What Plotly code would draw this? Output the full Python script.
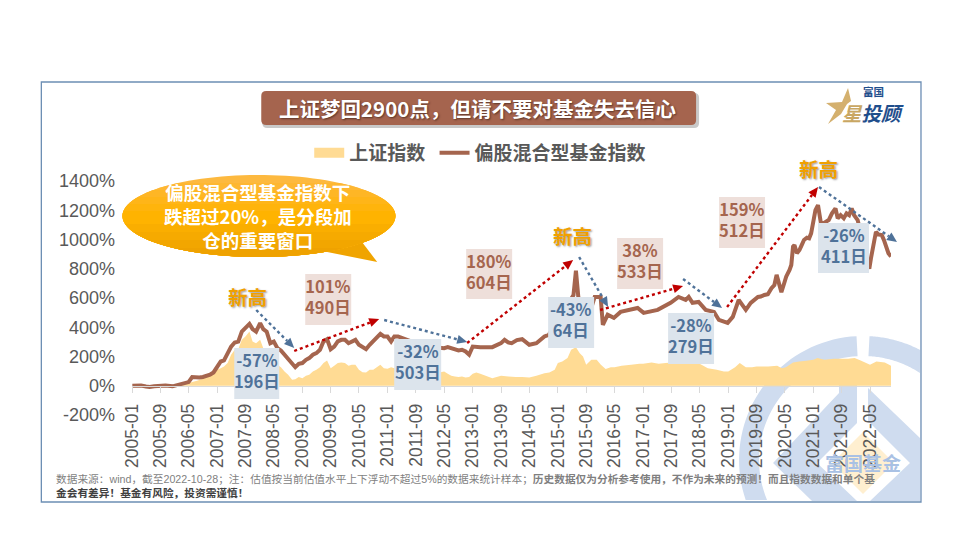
import numpy as np
import plotly.graph_objects as go

# 偏股混合型基金指数 (values in %)
fund_dates = [
    "2005-01-04", "2005-02-15", "2005-03-20", "2005-05-01", "2005-06-01", "2005-07-10", "2005-09-01", "2005-10-15",
    "2005-12-15", "2006-01-10", "2006-03-01", "2006-05-01", "2006-06-01", "2006-07-01", "2006-08-01", "2006-09-01",
    "2006-10-01", "2006-11-01", "2006-12-01", "2007-01-01", "2007-02-01", "2007-03-01", "2007-04-01", "2007-05-01",
    "2007-06-01", "2007-07-01", "2007-08-01", "2007-09-01", "2007-10-05", "2007-11-01", "2007-12-01", "2008-01-05",
    "2008-02-01", "2008-03-01", "2008-04-01", "2008-05-01", "2008-06-01", "2008-07-01", "2008-08-01", "2008-09-01",
    "2008-10-01", "2008-11-01", "2008-12-01", "2009-01-01", "2009-02-01", "2009-03-01", "2009-04-01", "2009-05-01",
    "2009-06-01", "2009-07-01", "2009-08-01", "2009-09-01", "2009-10-01", "2009-11-01", "2009-12-01", "2010-01-01",
    "2010-02-01", "2010-03-01", "2010-04-01", "2010-05-01", "2010-06-01", "2010-07-01", "2010-08-01", "2010-09-01",
    "2010-10-01", "2010-11-01", "2010-12-01", "2011-01-01", "2011-02-01", "2011-03-01", "2011-04-01", "2011-06-01",
    "2011-08-01", "2011-10-01", "2012-01-01", "2012-03-01", "2012-05-01", "2012-06-01", "2012-07-01", "2012-08-01",
    "2012-09-01", "2012-10-01", "2012-11-01", "2012-12-01", "2013-01-01", "2013-03-07", "2013-06-18", "2013-09-01",
    "2013-10-01", "2013-11-01", "2013-12-01", "2014-01-15", "2014-03-01", "2014-05-01", "2014-07-01", "2014-09-08",
    "2014-10-15", "2015-01-01", "2015-03-01", "2015-05-15", "2015-06-05", "2015-06-25", "2015-07-10", "2015-08-25",
    "2015-09-20", "2015-11-13", "2016-01-03", "2016-01-22", "2016-03-03", "2016-04-25", "2016-06-22", "2016-09-01",
    "2016-11-15", "2017-01-06", "2017-03-06", "2017-05-06", "2017-08-25", "2017-11-01", "2018-01-01", "2018-01-27",
    "2018-03-01", "2018-04-22", "2018-06-22", "2018-09-01", "2018-10-13", "2018-12-27", "2019-02-09", "2019-04-01",
    "2019-06-01", "2019-07-13", "2019-09-13", "2019-10-07", "2019-11-07", "2019-12-07", "2020-01-07", "2020-02-01",
    "2020-02-20", "2020-03-10", "2020-04-01", "2020-04-25", "2020-05-12", "2020-06-10", "2020-06-25", "2020-07-10",
    "2020-07-22", "2020-08-12", "2020-09-03", "2020-09-22", "2020-10-12", "2020-11-06", "2020-11-25", "2020-12-12",
    "2021-01-01", "2021-01-18", "2021-02-09", "2021-02-25", "2021-03-06", "2021-04-05", "2021-05-12", "2021-06-09",
    "2021-07-09", "2021-07-28", "2021-08-22", "2021-09-18", "2021-10-12", "2021-11-03", "2021-11-25", "2021-12-15",
    "2022-01-15", "2022-03-09", "2022-04-25", "2022-05-09", "2022-05-25", "2022-06-21", "2022-07-10", "2022-08-10",
    "2022-08-28", "2022-09-15", "2022-10-06", "2022-10-28",
]
fund_values = [
    0, 3, 2, -5, -9, -4, 0, 2,
    -4, 2, 11, 25, 59, 55, 57, 60,
    68, 75, 91, 132, 166, 173, 215, 268,
    296, 302, 371, 400, 423, 387, 370, 428,
    387, 370, 291, 302, 257, 241, 212, 177,
    155, 127, 150, 155, 177, 189, 212, 223,
    246, 303, 318, 250, 268, 303, 314, 314,
    291, 303, 314, 280, 264, 250, 280, 303,
    325, 355, 337, 337, 303, 337, 337, 320,
    300, 265, 250, 262, 257, 264, 257, 250,
    241, 246, 234, 212, 268, 264, 264, 291,
    314, 296, 291, 312, 318, 280, 291, 337,
    348, 450, 520, 620, 787, 610, 560, 480,
    470, 607, 607, 416, 485, 464, 505, 519,
    532, 498, 510, 519, 567, 607, 587, 607,
    567, 573, 519, 505, 450, 430, 471, 587,
    519, 567, 607, 610, 621, 626, 667, 689,
    758, 701, 640, 701, 746, 792, 826, 951,
    962, 906, 928, 962, 997, 1012, 1008, 1042,
    1133, 1201, 1235, 1167, 1111, 1115, 1133, 1179,
    1213, 1145, 1167, 1145, 1179, 1167, 1213, 1167,
    1133, 960, 800, 871, 940, 1053, 1035, 1030,
    997, 951, 906, 883,
]

# 上证指数 (values in %)
index_dates = [
    "2005-01-04", "2005-06-01", "2005-12-01", "2006-03-01", "2006-05-01", "2006-07-20", "2006-10-01", "2006-12-01",
    "2007-01-01", "2007-02-01", "2007-03-01", "2007-04-01", "2007-05-01", "2007-06-01", "2007-07-01", "2007-08-01",
    "2007-09-01", "2007-10-05", "2007-11-01", "2007-12-01", "2008-01-05", "2008-02-01", "2008-03-01", "2008-04-01",
    "2008-05-01", "2008-06-01", "2008-07-01", "2008-08-01", "2008-09-01", "2008-10-05", "2008-11-01", "2008-12-01",
    "2009-01-01", "2009-02-01", "2009-03-01", "2009-04-01", "2009-05-01", "2009-06-01", "2009-07-01", "2009-08-01",
    "2009-09-01", "2009-10-01", "2009-11-01", "2009-12-01", "2010-01-01", "2010-02-01", "2010-03-01", "2010-04-01",
    "2010-05-01", "2010-06-01", "2010-07-01", "2010-08-01", "2010-09-01", "2010-10-01", "2010-11-01", "2010-12-01",
    "2011-01-01", "2011-02-01", "2011-03-01", "2011-04-01", "2011-06-01", "2011-08-01", "2011-10-01", "2012-01-01",
    "2012-03-01", "2012-05-01", "2012-06-01", "2012-07-01", "2012-08-01", "2012-09-01", "2012-10-01", "2012-11-01",
    "2012-12-01", "2013-01-01", "2013-02-01", "2013-03-07", "2013-06-18", "2013-09-01", "2013-11-03", "2014-01-05",
    "2014-03-01", "2014-05-01", "2014-07-01", "2014-09-08", "2014-10-20", "2014-12-05", "2015-01-01", "2015-02-08",
    "2015-03-25", "2015-04-25", "2015-06-05", "2015-07-08", "2015-08-05", "2015-09-01", "2015-10-15", "2015-11-30",
    "2016-01-05", "2016-02-15", "2016-03-30", "2016-05-01", "2016-07-01", "2016-09-20", "2016-12-01", "2017-01-01",
    "2017-03-15", "2017-05-15", "2017-07-15", "2017-09-01", "2017-12-01", "2018-03-01", "2018-05-01", "2018-07-10",
    "2018-09-25", "2018-11-25", "2019-01-01", "2019-03-01", "2019-04-10", "2019-06-01", "2019-07-25", "2019-09-01",
    "2019-12-10", "2020-02-25", "2020-04-05", "2020-05-10", "2020-07-10", "2020-09-01", "2020-11-01", "2021-01-01",
    "2021-02-05", "2021-04-05", "2021-06-25", "2021-09-01", "2021-10-25", "2021-12-20", "2022-02-10", "2022-05-01",
    "2022-06-25", "2022-09-05", "2022-10-28",
]
index_values = [
    0, -3, -5, 7, 18, 36, 59, 86,
    109, 120, 132, 155, 212, 246, 250, 314,
    337, 371, 303, 291, 314, 257, 200, 189,
    166, 143, 127, 98, 75, 41, 45, 59,
    52, 68, 75, 98, 109, 127, 155, 173,
    120, 137, 155, 159, 155, 137, 143, 143,
    109, 93, 91, 109, 109, 127, 143, 120,
    116, 127, 120, 127, 115, 95, 85, 80,
    88, 98, 82, 68, 64, 59, 64, 57,
    59, 82, 91, 82, 52, 68, 64, 59,
    59, 57, 68, 86, 91, 109, 155, 166,
    189, 246, 264, 223, 200, 143, 177, 177,
    143, 114, 127, 127, 137, 143, 150, 150,
    159, 150, 155, 159, 155, 150, 150, 120,
    109, 98, 98, 127, 155, 127, 127, 132,
    132, 137, 120, 127, 159, 166, 171, 177,
    189, 177, 184, 184, 184, 189, 173, 143,
    166, 159, 137,
]

y_ticks = [-200, 0, 200, 400, 600, 800, 1000, 1200, 1400]

up_boxes = [("101%", "490日", 305, 351, 274, 325), ("180%", "604日", 466, 512, 249, 299),
            ("38%", "533日", 617, 663, 238, 289), ("159%", "512日", 719, 765, 197, 248)]
down_boxes = [("-57%", "196日", 234, 279, 348, 399), ("-32%", "503日", 394, 441, 339, 390),
              ("-43%", "64日", 548, 594, 297, 348), ("-28%", "279日", 668, 714, 313, 364),
              ("-26%", "411日", 818, 869, 223, 273)]
up_arrows = [(294, 351, 379, 319), (467, 343, 573, 260), (600, 310, 683, 286), (727, 307, 818, 187)]
down_arrows = [(256, 310, 294, 348), (384, 320, 467, 342), (579, 257, 608, 307), (683, 279, 722, 308), (819, 187, 897, 242)]
new_high = [(247, 296), (572, 235), (818, 168)]

FONT = "Liberation Sans, Noto Sans CJK SC, sans-serif"
CJK = "Noto Sans CJK SC, sans-serif"
BROWN = "#A5654E"
BLUE = "#4F7299"
RED = "#C00000"
WM = "#CFDCEF"

# plot area in window pixels, the page body adds an 8px margin
L, R, T, B = 131.7, 891, 181, 415
W, H = R - L, B - T


def px(x):
    return (x - L) / W


def py(y):
    return (B - y) / H


def poly(points):
    return "M" + " L".join(f"{px(x):.5f},{py(y):.5f}" for x, y in points) + " Z"


def round_rect(x0, y0, x1, y1, r):
    a = [(x0 + r, y0), (x1 - r, y0), (x1, y0 + r), (x1, y1 - r), (x1 - r, y1), (x0 + r, y1), (x0, y1 - r), (x0, y0 + r)]
    c = [(x1, y0), (x1, y1), (x0, y1), (x0, y0)]
    f = lambda p: f"{px(p[0]):.5f},{py(p[1]):.5f}"
    return (f"M{f(a[0])} L{f(a[1])} Q{f(c[0])} {f(a[2])} L{f(a[3])} Q{f(c[1])} {f(a[4])} "
            f"L{f(a[5])} Q{f(c[2])} {f(a[6])} L{f(a[7])} Q{f(c[3])} {f(a[0])} Z")


def ring_part(cx, cy, r0, r1, outer_angles, inner_angles):
    t1 = np.radians(np.linspace(*outer_angles, 40))
    t0 = np.radians(np.linspace(*inner_angles, 40))
    outer = [(cx + r1 * np.cos(v), cy - r1 * np.sin(v)) for v in t1]
    inner = [(cx + r0 * np.cos(v), cy - r0 * np.sin(v)) for v in t0[::-1]]
    return poly(outer + inner)


shapes = []


def add_path(path, color, layer="above"):
    shapes.append(dict(type="path", xref="paper", yref="paper", path=path, fillcolor=color, line_width=0, layer=layer))


# watermark behind the chart, cut at the frame
add_path(ring_part(863, 460, 104, 124, (93, 198.8), (93, 202.6)), WM, "below")
add_path(ring_part(863, 460, 104, 124, (62.6, 87), (56.8, 87)), WM, "below")
add_path(poly([(839, 375), (857, 375), (857, 423), (817, 463), (857, 501), (812, 501), (773, 463), (839, 393)]), WM, "below")
add_path(poly([(868, 388), (920, 438), (920, 501), (870, 501), (910, 463), (868, 421)]), WM, "below")
add_path(poly([(863, 432), (894, 463), (863, 494), (832, 463)]), "#FFEFD0", "below")

# frame
shapes.append(dict(type="rect", xref="paper", yref="paper", x0=px(41), x1=px(921), y0=py(82), y1=py(502),
                   line=dict(color="#6C8EB4", width=1.3), layer="above"))

# title bar with its shadow
add_path(round_rect(262, 93, 699, 128, 5), "#C9C9C9")
add_path(round_rect(261, 91, 696, 125, 5), "#A5644E")

# speech bubble, stacked from the top colour down
cx, cy, rx, ry = 258.7, 216, 136.5, 41
add_path(poly([(317, 250), (361, 241), (377, 262)]), "#F0A400")
t = np.radians(np.linspace(0, 360, 120))
add_path(poly([(cx + rx * np.cos(v), cy + ry * np.sin(v)) for v in t]), "#FDB93F")
band_tops = [183, 190, 197, 204, 211, 224, 232, 240, 248]
band_colors = ["#FEB732", "#FEB625", "#FFB518", "#FFB40C", "#FFB300", "#FAAE00", "#F6AA00", "#F2A600", "#EFA200"]
for top, color in zip(band_tops, band_colors):
    a = np.arcsin((top - cy) / ry)
    v = np.linspace(a, np.pi - a, 60)
    add_path(poly([(cx + rx * np.cos(k), cy + ry * np.sin(k)) for k in v]), color)

# logo star, its lower right arm gives way to the glyph
add_path(poly([(848, 88), (851, 101), (847, 104), (841, 114), (828, 124), (836, 110), (826, 103), (842, 102)]), "#D4B06E")

# value boxes
for _, _, x0, x1, y0, y1 in up_boxes:
    shapes.append(dict(type="rect", xref="paper", yref="paper", x0=px(x0), x1=px(x1), y0=py(y0), y1=py(y1), fillcolor="#EEDFDA", line_width=0))
for _, _, x0, x1, y0, y1 in down_boxes:
    shapes.append(dict(type="rect", xref="paper", yref="paper", x0=px(x0), x1=px(x1), y0=py(y0), y1=py(y1), fillcolor="#DCE4EC", line_width=0))


def add_arrow(x0, y0, x1, y1, color):
    d = np.hypot(x1 - x0, y1 - y0)
    ux, uy = (x1 - x0) / d, (y1 - y0) / d
    bx, by = x1 - 10 * ux, y1 - 10 * uy
    shapes.append(dict(type="line", xref="paper", yref="paper", x0=px(x0), y0=py(y0), x1=px(bx), y1=py(by),
                       line=dict(color=color, width=2.4, dash="dot")))
    add_path(poly([(x1, y1), (bx - 4.5 * uy, by + 4.5 * ux), (bx + 4.5 * uy, by - 4.5 * ux)]), color)


for a in up_arrows:
    add_arrow(*a, RED)
for a in down_arrows:
    add_arrow(*a, BLUE)

annotations = []


def add_text(text, x, y, size, color, bold=True, anchor="center", family=CJK, shadow=None):
    font = dict(family=family, size=size, color=color)
    if shadow:
        font["shadow"] = shadow
    annotations.append(dict(text=f"<b>{text}</b>" if bold else text, xref="paper", yref="paper", x=px(x), y=py(y),
                            xanchor=anchor, yanchor="middle", align=anchor, showarrow=False, font=font))


add_text("富国基金", 863, 462, 19, "#A9C1E4")
add_text("上证梦回2900点，但请不要对基金失去信心", 477.5, 108, 20.5, "#FFFFFF", shadow="1px 1px 2px #5A3528")
add_text("偏股混合型基金指数下<br>跌超过20%，是分段加<br>仓的重要窗口", 258, 216, 18.5, "#FFFFFF")
for x, y in new_high:
    add_text("新高", x, y, 19.5, "#F0A000", shadow="1px 1px 2px #999999")
for top, bottom, x0, x1, y0, y1 in up_boxes:
    add_text(f"{top}<br>{bottom}", (x0 + x1) / 2, (y0 + y1) / 2 - 3, 16.5, BROWN)
for top, bottom, x0, x1, y0, y1 in down_boxes:
    add_text(f"{top}<br>{bottom}", (x0 + x1) / 2, (y0 + y1) / 2 - 3, 16.5, BLUE)
add_text("富国", 873, 91, 10.5, "#1F4E8C")
add_text("<i><span style='color:#C9A763'>星</span>投顾</i>", 873, 113, 19.5, "#1F4E8C")
add_text("数据来源：wind，截至2022-10-28；注：估值按当前估值水平上下浮动不超过5%的数据来统计样本；"
         "<b>历史数据仅为分析参考使用，不作为未来的预测！而且指数数据和单个基</b><br>"
         "<b><span style='color:#404040'>金会有差异！基金有风险，投资需谨慎！</span></b>",
         54, 485.5, 10.7, "#7F7F7F", bold=False, anchor="left", family=FONT)

fig = go.Figure()
fig.add_trace(go.Scatter(x=index_dates, y=index_values, mode="none", fill="tozeroy", fillcolor="#FFDB94", showlegend=False))
# legend entry for the area, a wide line gives the block swatch
fig.add_trace(go.Scatter(x=[None], y=[None], name="上证指数\u00a0", mode="lines", line=dict(color="#FFDB94", width=13)))
fig.add_trace(go.Scatter(x=fund_dates, y=fund_values, name="偏股混合型基金指数", mode="lines", line=dict(color=BROWN, width=4)))

fig.update_layout(
    width=952, height=532, autosize=False,
    margin=dict(l=L - 8, r=960 - R, t=T - 8, b=540 - B, pad=0),
    paper_bgcolor="white", plot_bgcolor="rgba(0,0,0,0)",
    font=dict(family=FONT, color="#595959"),
    showlegend=True,
    legend=dict(orientation="h", x=px(309), y=py(153), xanchor="left", yanchor="middle", bgcolor="rgba(0,0,0,0)",
                itemwidth=30, font=dict(family=CJK, size=19, color="#595959", weight="bold")),
    xaxis=dict(type="date", range=["2005-01-01", "2022-10-28"], anchor="free", position=0.125,
               tick0="2005-01-01", dtick="M8", tickformat="%Y-%m", tickangle=-90,
               ticks="outside", ticklen=6, tickcolor="#D9D9D9", showline=True, linecolor="#D9D9D9", linewidth=1,
               showgrid=False, zeroline=False, tickfont=dict(family=FONT, size=17.5, color="#595959"), ticklabelstandoff=4),
    yaxis=dict(range=[-200, 1400], tickvals=y_ticks, ticktext=[f"{v}%" for v in y_ticks], showgrid=False,
               zeroline=False, showline=False, ticks="", tickfont=dict(family=FONT, size=18, color="#595959"), ticklabelstandoff=16),
    shapes=shapes,
    annotations=annotations,
)

fig.write_html("out.html")
